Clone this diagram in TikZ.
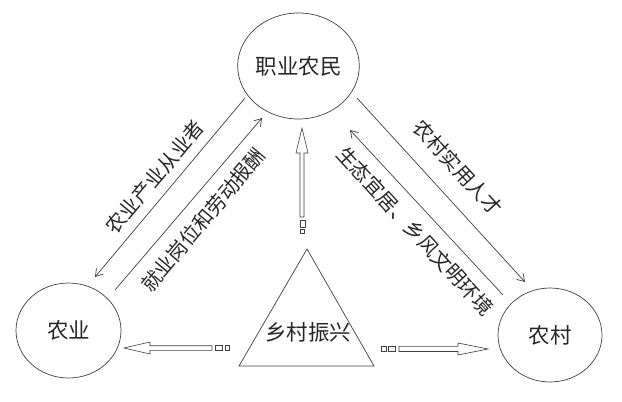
\documentclass[tikz,border=0pt]{standalone}
\usepackage{fontspec}
\newfontfamily\cjk{Noto Sans CJK SC}
\usetikzlibrary{shapes.geometric,arrows.meta}
\begin{document}
\begin{tikzpicture}[x=1pt,y=-1pt,
  line/.style={draw=black!75, line width=0.7pt},
  circ/.style={ellipse, line, inner sep=0pt, text=black!85, font=\cjk\fontsize{21.5}{21.5}\selectfont},
  lab/.style={font=\cjk\fontsize{20}{20}\selectfont, text=black!85, inner sep=0pt},
  arr/.style={line, -{Straight Barb[length=7pt,width=9pt]}},
  hollow/.style={line, fill=white, line width=0.6pt},
]
\useasboundingbox[fill=white] (0,0) rectangle (622,402);

% circles
\node[circ, minimum width=119pt, minimum height=106pt] (zy) at (298.5,66) {职业农民};
\node[circ, minimum width=105pt, minimum height=95pt] (ny) at (68.5,330.5) {农业};
\node[circ, minimum width=104pt, minimum height=94pt] (nc) at (550,335) {农村};

% triangle
\coordinate (tA) at (307,249);
\coordinate (tB) at (374,366);
\coordinate (tC) at (239,366);
\draw[line] (tA) -- (tB) -- (tC) -- cycle;
\node[lab, font=\cjk\fontsize{21.5}{21.5}\selectfont] (xc) at (308,332) {乡村振兴};

% diagonal arrows
\coordinate (a1s) at (245,98);  \coordinate (a1e) at (95,277);
\coordinate (a2s) at (115,290); \coordinate (a2e) at (262,118);
\coordinate (a3s) at (357,98);  \coordinate (a3e) at (525,282);
\coordinate (a4s) at (503,295); \coordinate (a4e) at (350,130);
\draw[arr] (a1s) -- (a1e);
\draw[arr] (a2s) -- (a2e);
\draw[arr] (a3s) -- (a3e);
\draw[arr] (a4s) -- (a4e);

% labels
\node[lab, rotate=50] (l1) at (155,177) {农业产业从业者};
\node[lab, rotate=50] (l2) at (203,220) {就业岗位和劳动报酬};
\node[lab, rotate=-47.5] (l3) at (458,168) {农村实用人才};
\node[lab, rotate=-47.5] (l4) at (415,231) {生态宜居、乡风文明环境};

% hollow arrow to the left
\draw[hollow] (124,348) -- (150,342) -- (150,345.7) -- (212,345.7) -- (212,350.3)
  -- (150,350.3) -- (150,354) -- cycle;
\draw[hollow] (215,345.5) rectangle (222,350);
\draw[hollow] (225,345.5) rectangle (229,350);

% hollow arrow to the right
\draw[hollow] (488,349) -- (458,343) -- (458,346.3) -- (399,346.3) -- (399,351.5)
  -- (458,351.5) -- (458,355) -- cycle;
\draw[hollow] (381.5,346.5) rectangle (386.5,351);
\draw[hollow] (388,346) rectangle (395,351);

% hollow arrow upward
\draw[hollow] (302,128) -- (308,153) -- (304,153) -- (304,217) -- (300,217)
  -- (300,153) -- (296,153) -- cycle;
\draw[hollow] (300,220) rectangle (305,227);
\draw[hollow] (300.5,229.5) rectangle (304.5,233);
\end{tikzpicture}
\end{document}
